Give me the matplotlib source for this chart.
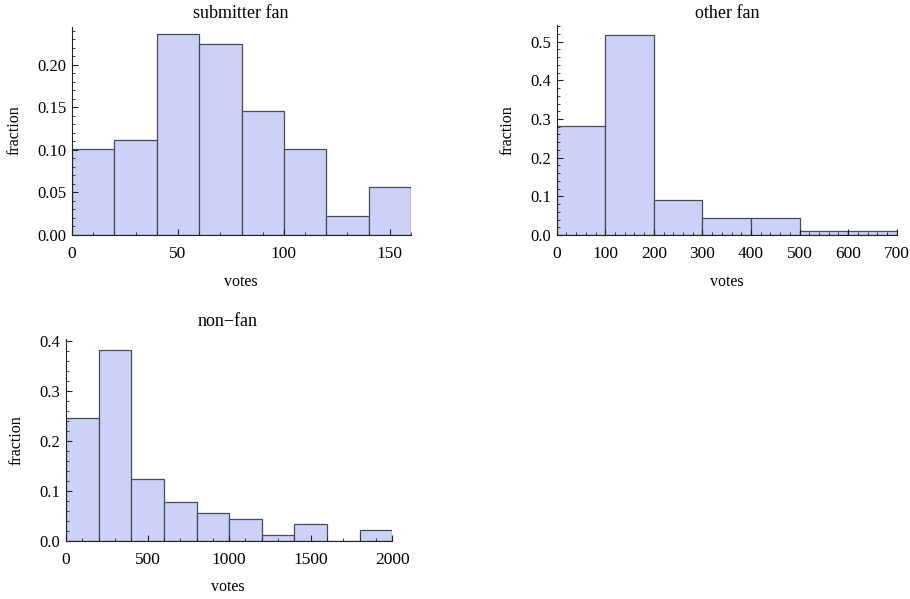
import matplotlib
matplotlib.use("Agg")
import matplotlib.pyplot as plt
from matplotlib.ticker import MultipleLocator, FormatStrFormatter
import numpy as np

plt.rcParams['font.family'] = ['Liberation Serif', 'DejaVu Serif']

# data: bin edges and fractions
sub_edges = [0, 20, 40, 60, 80, 100, 120, 140, 160]
sub_frac = [0.101, 0.112, 0.236, 0.225, 0.146, 0.101, 0.0225, 0.056]

oth_edges = [0, 100, 200, 300, 400, 500, 600, 700]
oth_frac = [0.281, 0.517, 0.0899, 0.0449, 0.0449, 0.0112, 0.0112]

non_edges = [0, 200, 400, 600, 800, 1000, 1200, 1400, 1600, 1800, 2000]
non_frac = [0.247, 0.382, 0.1236, 0.0787, 0.056, 0.045, 0.0112, 0.0337, 0.0, 0.0225]

titles = ["submitter fan", "other fan", "non\u2212fan"]

W, H = 910, 599
fig = plt.figure(figsize=(W / 100, H / 100), dpi=100)

def px_axes(l, r, t, b):
    return fig.add_axes([l / W, 1 - b / H, (r - l) / W, (b - t) / H])

FILL = '#CCD2F7'
EDGE = '#4a4a55'

def draw(ax, edges, frac, ylim, xmaj, xmin, ymaj, ymin, yfmt):
    edges = np.asarray(edges, float)
    widths = np.diff(edges)
    ax.bar(edges[:-1], frac, width=widths, align='edge', color=FILL,
           edgecolor=EDGE, linewidth=0.9)
    ax.set_xlim(edges[0], edges[-1])
    ax.set_ylim(0, ylim)
    for s in ['top', 'right']:
        ax.spines[s].set_visible(False)
    for s in ['left', 'bottom']:
        ax.spines[s].set_linewidth(0.8)
        ax.spines[s].set_color('#222222')
    ax.xaxis.set_major_locator(MultipleLocator(xmaj))
    ax.xaxis.set_minor_locator(MultipleLocator(xmin))
    ax.yaxis.set_major_locator(MultipleLocator(ymaj))
    ax.yaxis.set_minor_locator(MultipleLocator(ymin))
    ax.yaxis.set_major_formatter(FormatStrFormatter(yfmt))
    ax.tick_params(which='major', direction='in', length=4, width=0.8,
                   color='#222222')
    ax.tick_params(axis='x', which='major', labelsize=12.5, pad=8)
    ax.tick_params(axis='y', which='major', labelsize=12, pad=4)
    ax.tick_params(which='minor', direction='in', length=2, width=0.6,
                   color='#222222')
    ax.set_axisbelow(False)

ax1 = px_axes(72, 411, 27, 235)
draw(ax1, sub_edges, sub_frac, 0.2447, 50, 10, 0.05, 0.01, '%.2f')
ax2 = px_axes(556.7, 896.7, 25, 235)
draw(ax2, oth_edges, oth_frac, 0.543, 100, 20, 0.1, 0.02, '%.1f')
ax3 = px_axes(66, 392.3, 339, 541)
draw(ax3, non_edges, non_frac, 0.404, 500, 100, 0.1, 0.02, '%.1f')

def ftext(x, y, s, **kw):
    fig.text(x / W, 1 - y / H, s, ha='center', va='center', **kw)

ftext(241, 13, titles[0], fontsize=13)
ftext(727, 14, titles[1], fontsize=13)
ftext(228, 321, titles[2], fontsize=13)
for x, y in [(241, 282), (727, 282), (228, 587)]:
    ftext(x, y, "votes", fontsize=11.5)
for x, y in [(15, 130), (508, 130), (17, 440)]:
    ftext(x, y, "fraction", fontsize=11.5, rotation=90)

fig.savefig("out.png", dpi=100)
